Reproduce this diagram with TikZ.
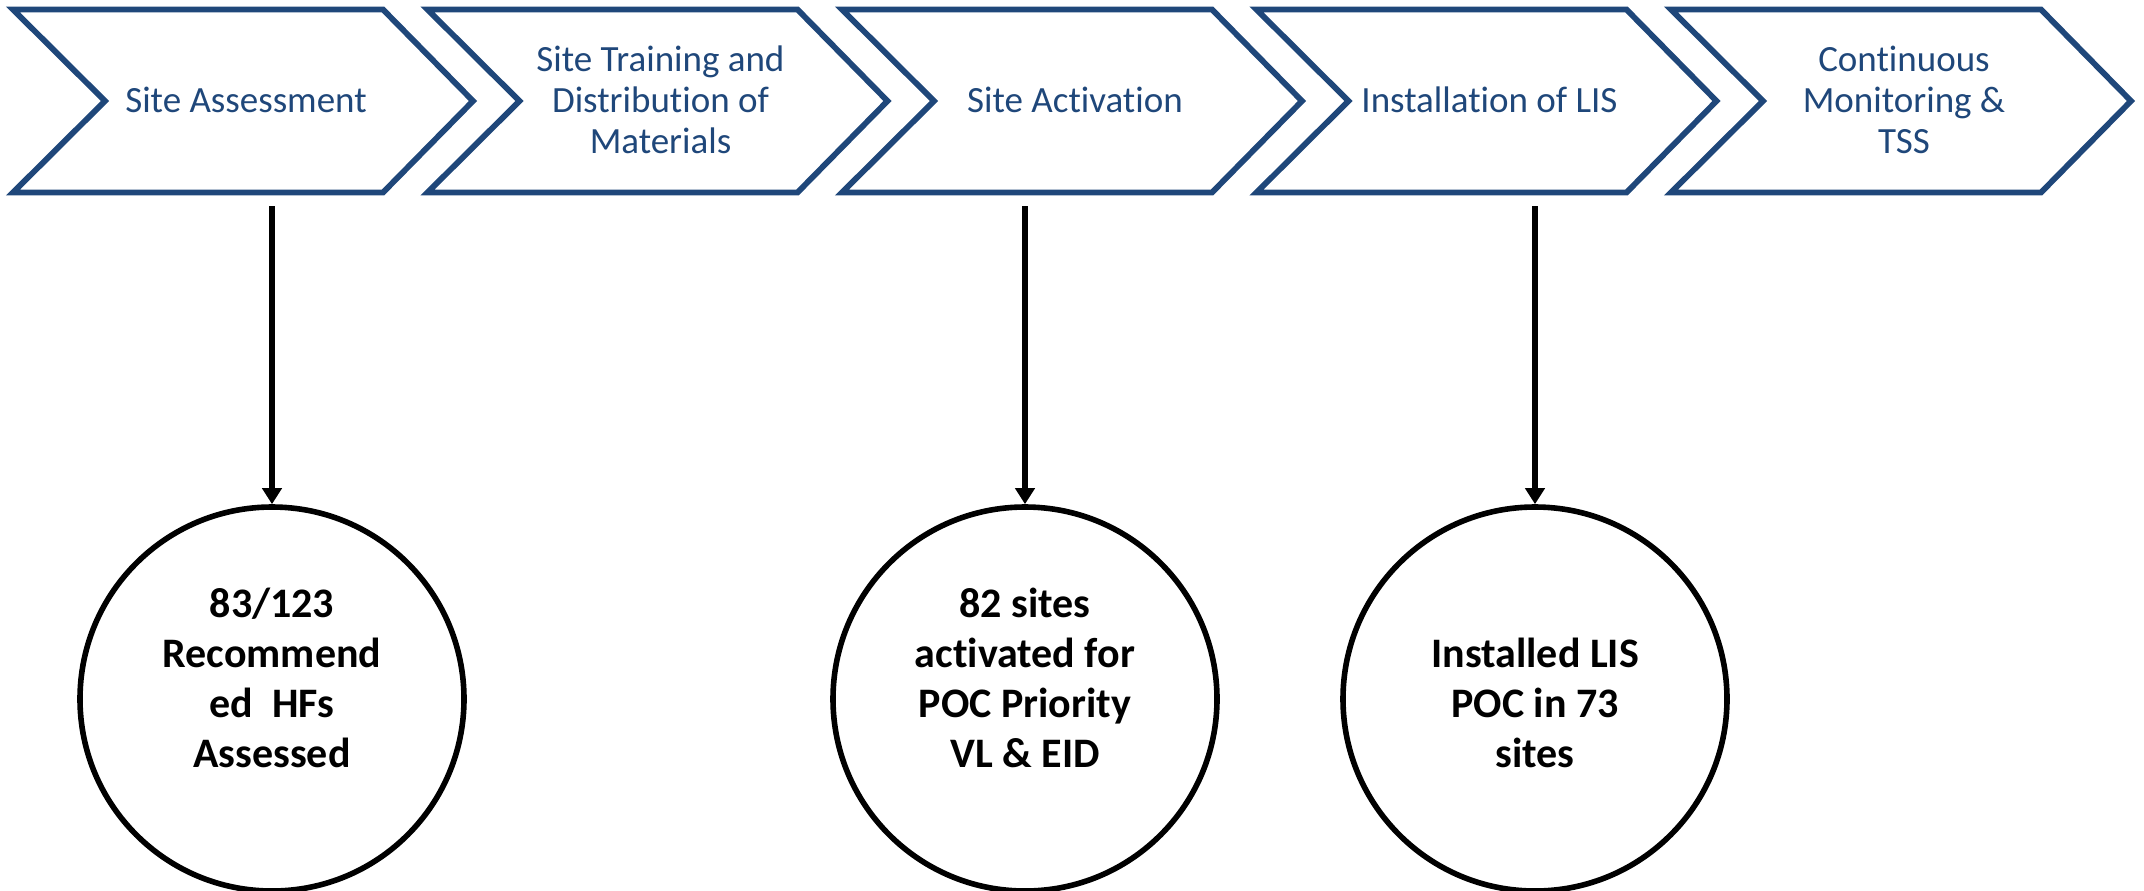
\documentclass[tikz,border=0pt]{standalone}
\usepackage{fontspec}
\setmainfont{Carlito}[Ligatures={NoCommon}]
\usetikzlibrary{arrows.meta}
\definecolor{chev}{RGB}{31,71,122}
\begin{document}
\begin{tikzpicture}[x=0.5pt,y=-0.5pt,
 chevline/.style={draw=chev, line width=2.9pt},
 chevtext/.style={text=chev, font=\fontsize{18.5}{20.5}\selectfont, align=center, inner sep=0pt},
 result/.style={circle, draw=black, line width=2.8pt, minimum size=192pt, inner sep=0pt},
 resulttext/.style={font=\fontsize{21}{25}\selectfont\bfseries, align=center, inner sep=0pt},
 arr/.style={draw=black, line width=3pt, -{Triangle[width=9.5pt,length=8pt]}}
]
\useasboundingbox (0,0) rectangle (2144,890);
\foreach \L in {13,427.5,842,1256.5,1671}{
  \draw[chevline] (\L,9.5) -- ++(370,0) -- ++(90,91.5) -- ++(-90,91.5) -- ++(-370,0) -- ++(92,-91.5) -- cycle;
}
\node[chevtext] (s1) at (246,100) {Site Assessment};
\node[chevtext] (s2) at (660.5,100) {Site Training and\\Distribution of\\Materials};
\node[chevtext] (s3) at (1075,100) {Site Activation};
\node[chevtext] (s4) at (1489.5,100) {Installation of LIS};
\node[chevtext] (s5) at (1904,100) {Continuous\\Monitoring \&\\TSS};

\node[result] (c1) at (272,699) {};
\node[result] (c2) at (1025,699) {};
\node[result] (c3) at (1535,699) {};
\node[resulttext] (t1) at (272,678) {83/123\\Recommend\\ed\ \ HFs\\Assessed};
\node[resulttext] (t2) at (1025,678) {82 sites\\activated for\\POC Priority\\VL \& EID};
\node[resulttext] (t3) at (1535,703) {Installed LIS\\POC in 73\\sites};

\coordinate (a1) at (272,206);
\coordinate (a2) at (1025,206);
\coordinate (a3) at (1535,206);
\draw[arr] (a1) -- (c1.north);
\draw[arr] (a2) -- (c2.north);
\draw[arr] (a3) -- (c3.north);
\end{tikzpicture}
\end{document}
